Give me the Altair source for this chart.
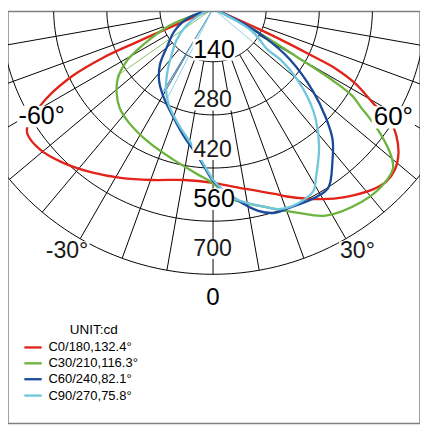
import math
import pandas as pd
import altair as alt

# ---------------- data ----------------
series_names = ["C0/180,132.4°", "C30/210,116.3°", "C60/240,82.1°", "C90/270,75.8°"]
series_colors = ["#e2231a", "#6db33f", "#1a4b9b", "#6fc6dd"]

# gamma angle (deg, 0 = straight down, negative = left half) and intensity (cd)
c0_angle = [-70, -66.5, -66.3, -66.0, -64.4, -61.7, -59.5, -57.5, -56.0, -50.9, -44.3, -36.5,
            -28.6, -19.5, -9.6, 0, 10.3, 19.1, 21.5, 29.9, 35.0, 41.5, 45.0, 48.5, 52.0, 55.5,
            57.5, 59.2, 62.2, 64.0, 64.5, 65.5, 66.0, 68]
c0_cd = [0, 127, 221, 313, 411, 498, 545, 580, 590, 588, 567, 537,
         508, 479, 458, 459, 483, 518, 532, 579, 606, 636, 645, 640, 620, 585,
         555, 496, 424, 353, 296, 186, 131, 0]

c30_angle = [-72, -68.6, -62.5, -58.6, -53.6, -48.7, -43.3, -36.7, -26.2, -15.4, -6.0, 0,
             5.8, 14.7, 22.3, 28.6, 37.5, 43.6, 48.4, 50.4, 53.2, 55.1, 56.2, 57.9, 59.0,
             60.1, 62.4, 64]
c30_cd = [0, 125, 209, 268, 312, 338, 359, 373, 390, 410, 436, 460,
          505, 540, 581, 621, 642, 645, 634, 609, 551, 501, 470, 434, 370,
          254, 126, 0]

c60_angle = [-72, -69.0, -60.0, -50.2, -43.5, -36.4, -28.7, -20.0, -12.7, -6.0, -2.0, 0,
             6.9, 12.6, 16.8, 20.3, 28.6, 32.8, 37.8, 42.4, 46.0, 50.4, 56.5, 60.9, 64.3, 66]
c60_cd = [0, 71, 117, 158, 203, 239, 269, 305, 346, 390, 431, 454,
          506, 546, 562, 562, 566, 561, 513, 467, 413, 342, 243, 157, 76, 0]

c90_angle = [-70, -65.0, -57.3, -49.0, -41.9, -36.7, -30.6, -24.7, -16.7, -9.3, -4.8, -1.0, 0,
             5.8, 14.7, 18.6, 23.2, 28.7, 31.3, 37.6, 42.7, 46.2, 50.0, 52.9, 53.0, 60.1, 65]
c90_cd = [0, 36, 84, 128, 163, 199, 244, 279, 318, 360, 397, 439, 451,
          500, 540, 557, 560, 549, 522, 458, 400, 352, 288, 223, 181, 117, 0]

# thin straight strokes from the centre to the curves
thin_series = [1, 2, 3, 3, 3]
thin_angle = [-55.0, -31.0, -27.0, -30.0, 50.0]
thin_cd = [309, 255, 265, 244, 135]

ring_values = [140, 280, 420, 560, 700]
spoke_angles = list(range(-80, 81, 10))
angle_labels = ["-60°", "60°", "-30°", "30°"]
unit_title = "UNIT:cd"

# ---------------- layout ----------------
REF = 428.0
W = 419
F = W / REF
K = 0.3943          # reference px per cd
OX, OY = 213.0, -3.0  # centre of the diagram in reference px


def px_to_x(px):
    return (px - OX) / K


def px_to_y(py):
    return -(py - OY) / K


xs = alt.Scale(domain=[px_to_x(0), px_to_x(REF)], nice=False, zero=False)
ys = alt.Scale(domain=[px_to_y(REF), px_to_y(0)], nice=False, zero=False)
color_scale = alt.Scale(domain=series_names, range=series_colors)


def polar(a, r):
    t = math.radians(a)
    return r * math.sin(t), -r * math.cos(t)


# curves
rows = []
for name, angs, cds in zip(series_names,
                           [c0_angle, c30_angle, c60_angle, c90_angle],
                           [c0_cd, c30_cd, c60_cd, c90_cd]):
    for i, (a, r) in enumerate(zip(angs, cds)):
        x, y = polar(a, r)
        rows.append({"series": name, "i": i, "x": x, "y": y})
curves = pd.DataFrame(rows)

rows = []
for j, (s, a, r) in enumerate(zip(thin_series, thin_angle, thin_cd)):
    for i, rr in enumerate([0, r]):
        x, y = polar(a, rr)
        rows.append({"series": series_names[s], "seg": j, "i": i, "x": x, "y": y})
thin = pd.DataFrame(rows)

# grid
rows = []
for rv in ring_values:
    for i, a in enumerate(range(-180, 181, 2)):
        x, y = polar(a, rv)
        rows.append({"ring": rv, "i": i, "x": x, "y": y})
rings = pd.DataFrame(rows)

rows = []
for a in spoke_angles:
    for i, rv in enumerate([ring_values[0], ring_values[-1]]):
        x, y = polar(a, rv)
        rows.append({"spoke": a, "i": i, "x": x, "y": y})
spokes = pd.DataFrame(rows)

# labels: (text, centre px x, centre px y, width px, font size, colour)
label_specs = [
    ("140", 214, 39.7, 40, 26, "#000000"),
    ("280", 212.5, 92.5, 38, 24, "#1a1a1a"),
    ("420", 212.5, 144, 38, 24, "#1a1a1a"),
    ("560", 214, 195, 38, 26, "#000000"),
    ("700", 212.5, 246.7, 38, 24, "#1a1a1a"),
    ("0", 213, 298, 13, 25, "#000000"),
    (angle_labels[0], 35, 109, 47, 26, "#000000"),
    (angle_labels[1], 400.3, 110, 41, 27, "#000000"),
    (angle_labels[2], 61.3, 249, 43, 24, "#1a1a1a"),
    (angle_labels[3], 363, 249, 34, 24, "#1a1a1a"),
]
lab_rows = []
for t, cx, cy, w, fs, col in label_specs:
    h = fs * 0.78
    lab_rows.append({
        "t": t, "x": px_to_x(cx), "y": px_to_y(cy), "fs": fs * F, "col": col,
        "bx": px_to_x(cx - w / 2 - 2), "bx2": px_to_x(cx + w / 2 + 2),
        "by": px_to_y(cy - h / 2 - 1), "by2": px_to_y(cy + h / 2 + 1),
    })
labels = pd.DataFrame(lab_rows)

leg_row_y = [349, 365.5, 382, 399]
legend = pd.DataFrame({
    "series": series_names,
    "x1": [px_to_x(17)] * 4,
    "x2": [px_to_x(35)] * 4,
    "tx": [px_to_x(42)] * 4,
    "y": [px_to_y(v) for v in leg_row_y],
})
legend_title = pd.DataFrame({"t": [unit_title], "x": [px_to_x(89)], "y": [px_to_y(331)]})

X = lambda f="x:Q": alt.X(f, scale=xs, axis=None)
Y = lambda f="y:Q": alt.Y(f, scale=ys, axis=None)

ring_layer = alt.Chart(rings).mark_line(color="#000000", strokeWidth=1, clip=True).encode(
    x=X(), y=Y(), detail="ring:N", order="i:Q")
spoke_layer = alt.Chart(spokes).mark_line(color="#000000", strokeWidth=1, clip=True).encode(
    x=X(), y=Y(), detail="spoke:N", order="i:Q")
thin_layer = alt.Chart(thin).mark_line(strokeWidth=0.8, clip=True).encode(
    x=X(), y=Y(), detail="seg:N", order="i:Q",
    color=alt.Color("series:N", scale=color_scale, legend=None))
curve_layer = alt.Chart(curves).mark_line(strokeWidth=2.4 * F, clip=True,
                                          interpolate="catmull-rom").encode(
    x=X(), y=Y(), detail="series:N", order="i:Q",
    color=alt.Color("series:N", scale=color_scale, legend=None,
                    sort=series_names))
box_layer = alt.Chart(labels).mark_rect(color="white").encode(
    x=X("bx:Q"), x2="bx2", y=Y("by:Q"), y2="by2")
text_layer = alt.Chart(labels).mark_text(font="Liberation Sans", baseline="middle",
                                         align="center").encode(
    x=X(), y=Y(), text="t:N",
    size=alt.Size("fs:Q", scale=None, legend=None),
    color=alt.Color("col:N", scale=None, legend=None))
leg_rule = alt.Chart(legend).mark_rule(strokeWidth=2.4 * F).encode(
    x=X("x1:Q"), x2="x2", y=Y(),
    color=alt.Color("series:N", scale=color_scale, legend=None))
leg_text = alt.Chart(legend).mark_text(font="Liberation Sans", fontSize=13.5 * F,
                                       align="left", baseline="middle",
                                       color="#000000").encode(
    x=X("tx:Q"), y=Y(), text="series:N")
leg_title = alt.Chart(legend_title).mark_text(font="Liberation Sans", fontSize=14 * F,
                                              align="center", baseline="middle",
                                              color="#000000").encode(
    x=X(), y=Y(), text="t:N")

chart = alt.layer(ring_layer, spoke_layer, thin_layer, curve_layer, box_layer, text_layer,
                  leg_rule, leg_text, leg_title).properties(
    width=W, height=W, padding=0,
    autosize=alt.AutoSizeParams(type="none"),
).configure_view(stroke="#808080", strokeWidth=1.5)

chart.save("out.html", embed_options={"renderer": "svg", "actions": False})
